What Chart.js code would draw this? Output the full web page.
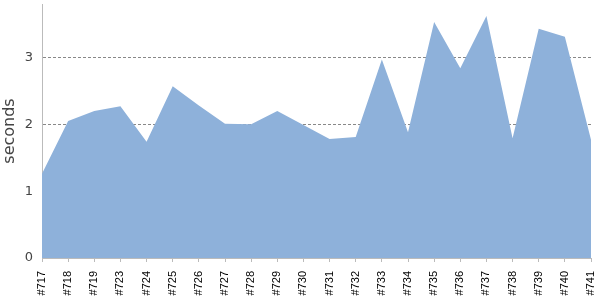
<!DOCTYPE html>
<html>
<head>
<meta charset="utf-8">
<script src="https://cdn.jsdelivr.net/npm/chart.js@4/dist/chart.umd.min.js"></script>
<style>
  html, body { margin: 0; padding: 0; background: #fff; }
  #wrap { width: 600px; height: 300px; position: relative; }
</style>
</head>
<body>
<div id="wrap"><canvas id="area-chart"></canvas></div>
<script>
const builds = ["#717", "#718", "#719", "#723", "#724", "#725", "#726", "#727", "#728", "#729", "#730",
  "#731", "#732", "#733", "#734", "#735", "#736", "#737", "#738", "#739", "#740", "#741"];
const seconds = [1.26, 2.05, 2.2, 2.27, 1.74, 2.57, 2.28, 2.01, 2.0, 2.2, 1.99,
  1.78, 1.81, 2.97, 1.88, 3.53, 2.84, 3.62, 1.79, 3.43, 3.31, 1.77];
const yTicks = [0, 1, 2, 3];

const config = {
  type: "line",
  data: {
    labels: builds,
    datasets: [
      {
        data: seconds,
        fill: "origin",
        backgroundColor: "rgb(142, 177, 218)",
        borderWidth: 0,
        pointRadius: 0,
        tension: 0,
      },
    ],
  },
  options: {
    responsive: true,
    maintainAspectRatio: false,
    animation: false,
    layout: { padding: { top: 4, right: 9 } },
    plugins: { legend: { display: false }, tooltip: { enabled: false } },
    scales: {
      x: {
        offset: false,
        afterFit: (s) => {
          s.height = 42;
          s.paddingLeft = 0;
          s.paddingRight = 0;
        },
        grid: { drawOnChartArea: false, tickLength: 4, color: "#bbb" },
        border: { color: "#bbb" },
        ticks: {
          minRotation: 90,
          maxRotation: 90,
          autoSkip: false,
          padding: 9,
          color: "#000",
          font: { family: "Liberation Sans", size: 11 },
        },
      },
      y: {
        min: 0,
        max: 3.8,
        afterFit: (s) => {
          s.width = 42;
          s.paddingTop = 0;
          s.paddingBottom = 0;
        },
        afterBuildTicks: (s) => { s.ticks = yTicks.map((v) => ({ value: v })); },
        grid: {
          drawTicks: false,
          color: (c) => (c.tick && c.tick.value === 0 ? "rgba(0,0,0,0)" : "#888"),
        },
        border: { color: "#bbb", dash: [3, 2] },
        ticks: {
          padding: 9,
          color: "#444",
          font: { family: "DejaVu Sans", size: 13 },
        },
        title: {
          display: true,
          text: "seconds",
          color: "#444",
          padding: 0,
          font: { family: "DejaVu Sans", size: 16 },
        },
      },
    },
  },
};

const ctx = document.getElementById("area-chart").getContext("2d");
window.myArea = new Chart(ctx, config);
</script>
</body>
</html>
